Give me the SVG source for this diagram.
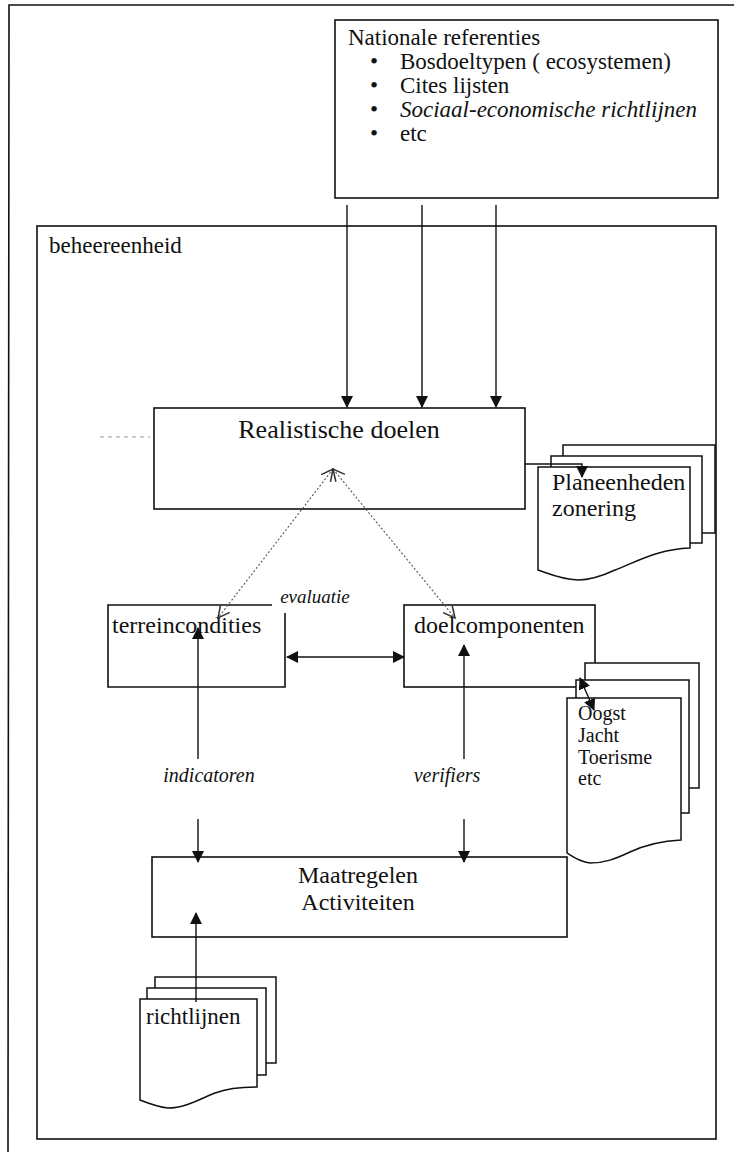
<svg xmlns="http://www.w3.org/2000/svg" width="734" height="1155" viewBox="0 0 734 1155">
<style>
  text { font-family: "Liberation Serif", "Times New Roman", serif; fill: #111; }
  .ln { fill: none; stroke: #111; stroke-width: 1.6; }
  .box { fill: none; stroke: #111; stroke-width: 1.6; }
  .page { fill: #fff; stroke: #111; stroke-width: 1.5; }
  .arr { fill: none; stroke: #111; stroke-width: 1.4; }
  .dot { fill: none; stroke: #555; stroke-width: 1.1; stroke-dasharray: 2 2; }
  .it { font-style: italic; }
</style>
<defs>
  <marker id="ah" viewBox="0 0 12 12" refX="11" refY="6" markerWidth="12" markerHeight="12" markerUnits="userSpaceOnUse" orient="auto-start-reverse">
    <path d="M0,0 L12,6 L0,12 Z" fill="#111"/>
  </marker>
  <marker id="oh" viewBox="0 0 12 12" refX="11" refY="6" markerWidth="14" markerHeight="14" markerUnits="userSpaceOnUse" orient="auto-start-reverse">
    <path d="M1,1 L11,6 L1,11" fill="none" stroke="#333" stroke-width="1.3"/>
  </marker>
</defs>

<g id="outer-frame">
  <path class="ln" d="M8,1152 L9,5 H734"/>
</g>

<g id="nationale-referenties">
  <rect class="box" x="335" y="20" width="383" height="178"/>
  <text x="348" y="45" font-size="23">Nationale referenties</text>
  <text x="370" y="69" font-size="23">•</text>
  <text x="400" y="69" font-size="23">Bosdoeltypen ( ecosystemen)</text>
  <text x="370" y="93" font-size="23">•</text>
  <text x="400" y="93" font-size="23">Cites lijsten</text>
  <text x="370" y="117" font-size="23">•</text>
  <text x="400" y="117" font-size="23" class="it">Sociaal-economische richtlijnen</text>
  <text x="370" y="141" font-size="23">•</text>
  <text x="400" y="141" font-size="23">etc</text>
</g>

<g id="beheereenheid">
  <rect class="box" x="37" y="226" width="679" height="913"/>
  <text x="49" y="253" font-size="23">beheereenheid</text>
</g>

<g id="realistische-doelen">
  <rect class="box" x="154" y="408" width="371" height="101"/>
  <text x="339" y="438" font-size="26" text-anchor="middle">Realistische doelen</text>
</g>

<g id="terreincondities">
  <path class="box" d="M272,605 H108 V687 H285 V613"/>
  <text x="112" y="633" font-size="24">terreincondities</text>
</g>

<g id="doelcomponenten">
  <rect class="box" x="404" y="605" width="191" height="82"/>
  <text x="414" y="633" font-size="24">doelcomponenten</text>
</g>

<g id="maatregelen">
  <rect class="box" x="152" y="857" width="415" height="80"/>
  <text x="358" y="883" font-size="24" text-anchor="middle">Maatregelen</text>
  <text x="358" y="910" font-size="24" text-anchor="middle">Activiteiten</text>
</g>

<g id="planeenheden">
  <path class="page" d="M563,533 V445 H715 V533 Z"/>
  <path class="page" d="M551,543 V456 H702 V543 Z"/>
  <path class="page" d="M538,570 V467 H690 V548 C660,549 640,560 615,570 C600,577 590,580 578,580 C560,579 550,574 538,570 Z"/>
  <text x="552" y="490" font-size="24">Planeenheden</text>
  <text x="552" y="516" font-size="24">zonering</text>
</g>

<g id="oogst">
  <path class="page" d="M585,788 V663 H699 V788 Z"/>
  <path class="page" d="M576,813 V680 H689 V813 Z"/>
  <path class="page" d="M567,853 V698 H681 V840 C660,841 645,845 630,852 C615,859 605,863 590,863 C580,862 573,857 567,853 Z"/>
  <text x="578" y="720" font-size="20">Oogst</text>
  <text x="578" y="742" font-size="20">Jacht</text>
  <text x="578" y="764" font-size="20">Toerisme</text>
  <text x="578" y="785" font-size="20">etc</text>
</g>

<g id="richtlijnen">
  <path class="page" d="M155,1063 V977 H276 V1063 Z"/>
  <path class="page" d="M147,1075 V988 H266 V1075 Z"/>
  <path class="page" d="M140,1100 V999 H257 V1087 C240,1087 228,1088 215,1093 C200,1099 185,1108 168,1108 C158,1107 150,1104 140,1100 Z"/>
  <text x="146" y="1024" font-size="23">richtlijnen</text>
</g>

<g id="labels">
  <text x="315" y="603" font-size="19" class="it" text-anchor="middle">evaluatie</text>
  <text x="209" y="782" font-size="20" class="it" text-anchor="middle">indicatoren</text>
  <text x="447" y="782" font-size="20" class="it" text-anchor="middle">verifiers</text>
</g>

<g id="connectors">
  <line class="arr" x1="347" y1="205" x2="347" y2="407" marker-end="url(#ah)"/>
  <line class="arr" x1="422" y1="205" x2="422" y2="407" marker-end="url(#ah)"/>
  <line class="arr" x1="496" y1="205" x2="496" y2="407" marker-end="url(#ah)"/>
  <path class="arr" d="M525,464 H582 V477" marker-end="url(#ah)"/>
  <line class="dot" x1="333" y1="469" x2="218" y2="618" marker-start="url(#oh)" marker-end="url(#oh)"/>
  <line class="dot" x1="333" y1="469" x2="455" y2="618" marker-start="url(#oh)" marker-end="url(#oh)"/>
  <line x1="100" y1="437" x2="150" y2="437" stroke="#999" stroke-width="1" stroke-dasharray="4 4"/>
  <line class="arr" x1="287" y1="657" x2="404" y2="657" marker-start="url(#ah)" marker-end="url(#ah)"/>
  <line class="arr" x1="198" y1="759" x2="198" y2="628" marker-end="url(#ah)"/>
  <line class="arr" x1="464" y1="759" x2="464" y2="645" marker-end="url(#ah)"/>
  <line class="arr" x1="198" y1="819" x2="198" y2="862" marker-end="url(#ah)"/>
  <line class="arr" x1="464" y1="819" x2="464" y2="862" marker-end="url(#ah)"/>
  <line class="arr" x1="196" y1="1002" x2="196" y2="913" marker-end="url(#ah)"/>
  <line class="arr" x1="580" y1="678" x2="594" y2="710" marker-start="url(#ah)" marker-end="url(#ah)"/>
</g>
</svg>
